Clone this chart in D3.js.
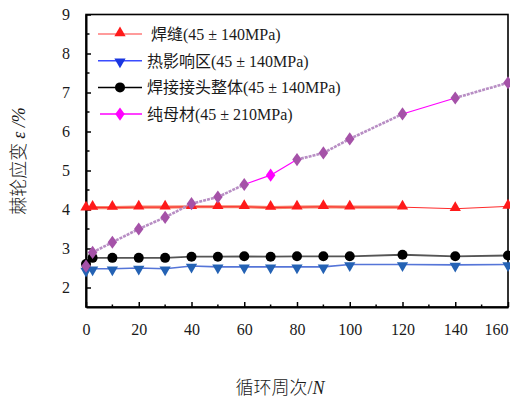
<!DOCTYPE html>
<html><head><meta charset="utf-8">
<script src="https://cdn.jsdelivr.net/npm/d3@7"></script>
<style>
html,body{margin:0;padding:0;background:#fff;}
</style></head>
<body>
<svg id="c" width="510" height="400"></svg>
<script>
// ---- data ----
const cycles = [0, 2.5, 10, 20, 30, 40, 50, 60, 70, 80, 90, 100, 120, 140, 160];
const weldSeam = [4.03, 4.05, 4.05, 4.06, 4.06, 4.07, 4.07, 4.07, 4.05, 4.06, 4.07, 4.06, 4.06, 4.02, 4.08];
const haz      = [2.45, 2.48, 2.48, 2.50, 2.48, 2.55, 2.53, 2.53, 2.53, 2.53, 2.53, 2.59, 2.59, 2.58, 2.59];
const joint    = [2.60, 2.76, 2.76, 2.76, 2.76, 2.79, 2.79, 2.80, 2.79, 2.80, 2.80, 2.80, 2.84, 2.80, 2.82];
const baseMetal= [2.55, 2.90, 3.16, 3.50, 3.80, 4.15, 4.32, 4.64, 4.88, 5.28, 5.45, 5.81, 6.45, 6.86, 7.25];
const seriesNames = [" 焊缝(45 ± 140MPa)", "热影响区(45 ± 140MPa)", "焊接接头整体(45 ± 140MPa)", "纯母材(45 ± 210MPa)"];
const xTicks = [0, 20, 40, 60, 80, 100, 120, 140, 160];
const yTicks = [2, 3, 4, 5, 6, 7, 8, 9];
const xTitle = "循环周次";
const xTitleVar = "N";
const yTitle = "棘轮应变 ";
const yTitleVar = "ε";
const yTitleUnit = " /%";

const SERIF = '"Liberation Serif","Times New Roman",serif';
const MIX = '"Liberation Serif","Noto Sans CJK SC",serif';
const CJK = '"Noto Sans CJK SC",sans-serif';

// ---- layout ----
const L = 86, R = 508, T = 14.5, B = 307;
const svg = d3.select("#c");
const x = d3.scaleLinear().domain([0, 160]).range([L, R]);
const y = d3.scaleLinear().domain([1.5, 9]).range([B, T]);

// frame
svg.append("rect").attr("x", L).attr("y", T).attr("width", R - L).attr("height", B - T)
  .attr("fill", "none").attr("stroke", "#000").attr("stroke-width", 1.6);

// x axis
const xAxis = d3.axisBottom(x).tickValues(xTicks).tickSizeInner(-5).tickSizeOuter(0).tickPadding(17).tickFormat(d3.format("d"));
const gx = svg.append("g").attr("transform", `translate(0,${B})`).call(xAxis);
gx.select(".domain").attr("stroke-width", 2);
gx.selectAll(".tick line").attr("stroke-width", 1.5);
gx.selectAll(".tick text").style("font-size", "16px").style("fill", "#1a1a1a").style("font-family", SERIF);
gx.selectAll(".tick text").filter(d => d === 160).attr("text-anchor", "end");
// minor x ticks
const xMinor = d3.range(10, 160, 20);
svg.append("g").selectAll("line").data(xMinor).join("line")
  .attr("x1", d => x(d)).attr("x2", d => x(d)).attr("y1", B).attr("y2", B - 2.5)
  .attr("stroke", "#000").attr("stroke-width", 1.5);

// y axis
const yAxis = d3.axisLeft(y).tickValues(yTicks).tickSizeInner(-5).tickSizeOuter(0).tickPadding(16).tickFormat(d3.format("d"));
const gy = svg.append("g").attr("transform", `translate(${L},0)`).call(yAxis);
gy.select(".domain").attr("stroke-width", 2);
gy.selectAll(".tick line").attr("stroke-width", 1.5);
gy.selectAll(".tick text").style("font-size", "16px").style("fill", "#1a1a1a").style("font-family", SERIF);
const yMinor = d3.range(2.5, 9, 1);
svg.append("g").selectAll("line").data(yMinor).join("line")
  .attr("x1", L).attr("x2", L + 3.5).attr("y1", d => y(d)).attr("y2", d => y(d))
  .attr("stroke", "#000").attr("stroke-width", 1.5);

// titles
const xt = svg.append("text").attr("x", 280).attr("y", 394).attr("text-anchor", "middle")
  .style("font-size", "18px").style("fill", "#1a1a1a");
xt.append("tspan").style("font-family", CJK).style("font-weight", 300).text(xTitle);
xt.append("tspan").style("font-family", SERIF).text("/");
xt.append("tspan").style("font-family", SERIF).style("font-style", "italic").text(xTitleVar);

const yt = svg.append("text").attr("transform", "translate(25,161) rotate(-90)").attr("text-anchor", "middle")
  .style("font-size", "18px").style("fill", "#1a1a1a");
yt.append("tspan").style("font-family", CJK).style("font-weight", 300).style("white-space", "pre").text(yTitle);
yt.append("tspan").style("font-family", SERIF).style("font-style", "italic").text(yTitleVar);
yt.append("tspan").style("font-family", SERIF).style("font-style", "italic").style("white-space", "pre").text(yTitleUnit);

// ---- series ----
const pts = arr => cycles.map((c, i) => [c, arr[i]]);
const line = d3.line().x(d => x(d[0])).y(d => y(d[1]));
const plot = svg.append("g");

// red: thick salmon band to 120, thin red overall
plot.append("path").datum(pts(weldSeam).filter(d => d[0] <= 120)).attr("d", line)
  .attr("fill", "none").attr("stroke", "#f4846c").attr("stroke-width", 3.2);
plot.append("path").datum(pts(weldSeam)).attr("d", line)
  .attr("fill", "none").attr("stroke", "#ff2a2a").attr("stroke-width", 1);

// blue
plot.append("path").datum(pts(haz)).attr("d", line)
  .attr("fill", "none").attr("stroke", "#5575d8").attr("stroke-width", 1.6);
// black
plot.append("path").datum(pts(joint)).attr("d", line)
  .attr("fill", "none").attr("stroke", "#555").attr("stroke-width", 1.8);

// magenta / purple
const bm = pts(baseMetal);
const segs = d3.pairs(bm);
const pure = s => (s[0][0] >= 60 && s[1][0] <= 80) || (s[0][0] >= 120 && s[1][0] <= 140);
plot.append("g").selectAll("path").data(segs).join("path")
  .attr("d", line).attr("fill", "none")
  .attr("stroke", s => pure(s) ? "#ff00ff" : "#b88ec4")
  .attr("stroke-width", s => pure(s) ? 1.2 : 2.6)
  .attr("stroke-dasharray", s => pure(s) ? null : "3,1");
plot.append("path").datum(bm.filter(d => d[0] <= 2.5)).attr("d", line)
  .attr("fill", "none").attr("stroke", "#ff00ff").attr("stroke-width", 1);

// markers
const sym = (type, size) => d3.symbol().type(type).size(size)();
const triUp = sym(d3.symbolTriangle, 55);
plot.append("g").selectAll("path").data(pts(weldSeam)).join("path")
  .attr("d", triUp).attr("transform", d => `translate(${x(d[0])},${y(d[1]) - 1})`).attr("fill", "#ff1a1a");
plot.append("g").selectAll("path").data(pts(haz)).join("path")
  .attr("d", triUp).attr("transform", d => `translate(${x(d[0])},${y(d[1]) + 1}) rotate(180)`).attr("fill", "#2462b4");
plot.append("g").selectAll("circle").data(pts(joint)).join("circle")
  .attr("cx", d => x(d[0])).attr("cy", d => y(d[1])).attr("r", 5).attr("fill", "#000");
const diamond = sym(d3.symbolDiamond, 50);
plot.append("g").selectAll("path").data(bm).join("path")
  .attr("d", diamond).attr("transform", d => `translate(${x(d[0])},${y(d[1])}) scale(1.25,1)`)
  .attr("fill", d => d[0] === 70 ? "#ff00ff" : "#a552a8");

// ---- legend ----
const legColors = ["#ff7a7a", "#3a4cff", "#000", "#ff00ff"];
const markerFill = ["#ff1a1a", "#1a36e0", "#000", "#ff00ff"];
const leg = svg.append("g");
seriesNames.forEach((name, i) => {
  const cy = 34 + i * 26.7;
  leg.append("line").attr("x1", i === 3 ? 100 : 98).attr("x2", 142).attr("y1", cy).attr("y2", cy)
    .attr("stroke", legColors[i]).attr("stroke-width", 1.5);
  if (i === 0) leg.append("path").attr("d", triUp).attr("transform", `translate(120,${cy - 1})`).attr("fill", markerFill[i]);
  if (i === 1) leg.append("path").attr("d", triUp).attr("transform", `translate(120,${cy + 1}) rotate(180)`).attr("fill", markerFill[i]);
  if (i === 2) leg.append("circle").attr("cx", 120).attr("cy", cy).attr("r", 5).attr("fill", markerFill[i]);
  if (i === 3) leg.append("path").attr("d", diamond).attr("transform", `translate(120,${cy}) scale(1.25,1)`).attr("fill", markerFill[i]);
  leg.append("text").attr("x", 147).attr("y", cy + 6)
    .style("font-size", "16px").style("font-family", MIX).style("fill", "#1a1a1a")
    .style("white-space", "pre").text(name);
});
</script>
</body></html>
